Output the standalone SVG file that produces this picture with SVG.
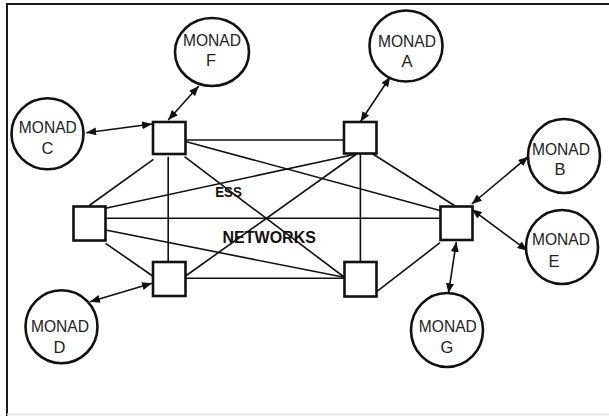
<svg xmlns="http://www.w3.org/2000/svg" width="609" height="416" viewBox="0 0 609 416">
  <style>
    .frame { fill: none; stroke: #1a1a1a; stroke-width: 2; }
    .hub { fill: #ffffff; stroke: #111111; stroke-width: 2.6; }
    .monad { fill: #ffffff; stroke: #111111; stroke-width: 2.6; }
    .link { stroke: #111111; stroke-width: 1.6; fill: none; }
    .arrow { stroke: #111111; stroke-width: 1.6; fill: none; marker-start: url(#head); marker-end: url(#head); }
    .label { font-family: "Liberation Sans", Arial, sans-serif; font-size: 16.5px; fill: #222222; text-anchor: middle; }
    .title { font-family: "Liberation Sans", Arial, sans-serif; font-weight: bold; fill: #111111; text-anchor: middle; }
  </style>
  <defs>
    <marker id="head" viewBox="0 0 10 8" markerWidth="10" markerHeight="8" markerUnits="userSpaceOnUse" refX="10" refY="4" orient="auto-start-reverse">
      <path d="M0,0 L10,4 L0,8 z" fill="#111111"/>
    </marker>
  </defs>

  <rect width="609" height="416" fill="#ffffff"/>
  <!-- outer frame: top and left dark, bottom faint -->
  <path class="frame" d="M7,416 L7,4 L609,4"/>
  <line x1="7" y1="414.5" x2="609" y2="414.5" stroke="#e6e6e6" stroke-width="2"/>

  <!-- mesh links between hubs, and hub-to-monad arrows -->
  <g id="connectors">
    <line class="link" x1="185.6" y1="140" x2="343.7" y2="140"/>
    <line class="link" x1="186.4" y1="141.7" x2="440" y2="210.5"/>
    <line class="link" x1="153.4" y1="159.3" x2="89.3" y2="205.5"/>
    <line class="link" x1="168.2" y1="156.7" x2="168.2" y2="261.7"/>
    <line class="link" x1="184.5" y1="156.7" x2="344" y2="277"/>
    <line class="link" x1="356.5" y1="154" x2="105.6" y2="208.3"/>
    <line class="link" x1="356.5" y1="154" x2="185.6" y2="276"/>
    <line class="link" x1="360.4" y1="154" x2="360.4" y2="261.7"/>
    <line class="link" x1="372.8" y1="154" x2="454.4" y2="205.5"/>
    <line class="link" x1="105.6" y1="218.3" x2="440" y2="218.3"/>
    <line class="link" x1="105.6" y1="230" x2="344" y2="277.3"/>
    <line class="link" x1="105.6" y1="243.3" x2="152.6" y2="276"/>
    <line class="link" x1="185.6" y1="278.3" x2="344" y2="278.3"/>
    <line class="link" x1="376.7" y1="291.7" x2="440" y2="242.7"/>

    <line class="arrow" x1="86.2" y1="132.7" x2="152" y2="124"/>
    <line class="arrow" x1="198.8" y1="86" x2="168.2" y2="120"/>
    <line class="arrow" x1="390.3" y1="76.7" x2="360.4" y2="121.7"/>
    <line class="arrow" x1="528.2" y1="156.7" x2="471.8" y2="204"/>
    <line class="arrow" x1="527.4" y1="250.7" x2="471.8" y2="209.3"/>
    <line class="arrow" x1="448.5" y1="293.3" x2="456.3" y2="242"/>
    <line class="arrow" x1="90" y1="301.7" x2="152" y2="283.3"/>
  </g>

  <!-- hubs -->
  <g id="hub-top-left"><rect class="hub" x="153" y="122" width="32.5" height="32"/></g>
  <g id="hub-top-right"><rect class="hub" x="344" y="122" width="32.5" height="31.5"/></g>
  <g id="hub-left"><rect class="hub" x="73.5" y="206.5" width="32" height="34"/></g>
  <g id="hub-right"><rect class="hub" x="440.5" y="206.5" width="32" height="33.5"/></g>
  <g id="hub-bottom-left"><rect class="hub" x="153" y="262" width="32.5" height="34"/></g>
  <g id="hub-bottom-right"><rect class="hub" x="344.5" y="262" width="32" height="34.5"/></g>

  <!-- monads -->
  <g id="monad-f">
    <ellipse class="monad" cx="212" cy="52" rx="37" ry="34"/>
    <text class="label" x="212" y="45.7" textLength="58" lengthAdjust="spacingAndGlyphs">MONAD</text>
    <text class="label" x="211" y="66">F</text>
  </g>
  <g id="monad-a">
    <ellipse class="monad" cx="406" cy="46" rx="36.5" ry="35.5"/>
    <text class="label" x="407" y="46.7" textLength="58" lengthAdjust="spacingAndGlyphs">MONAD</text>
    <text class="label" x="407" y="66.7">A</text>
  </g>
  <g id="monad-c">
    <ellipse class="monad" cx="47.5" cy="133.7" rx="36" ry="35.5"/>
    <text class="label" x="47.8" y="132.7" textLength="58" lengthAdjust="spacingAndGlyphs">MONAD</text>
    <text class="label" x="47.5" y="154">C</text>
  </g>
  <g id="monad-b">
    <ellipse class="monad" cx="564" cy="156" rx="36" ry="37"/>
    <text class="label" x="561" y="155" textLength="58" lengthAdjust="spacingAndGlyphs">MONAD</text>
    <text class="label" x="560" y="175">B</text>
  </g>
  <g id="monad-e">
    <ellipse class="monad" cx="562" cy="247" rx="36" ry="37"/>
    <text class="label" x="561" y="245" textLength="58" lengthAdjust="spacingAndGlyphs">MONAD</text>
    <text class="label" x="554" y="266.7">E</text>
  </g>
  <g id="monad-d">
    <ellipse class="monad" cx="61.5" cy="326.7" rx="36" ry="36.5"/>
    <text class="label" x="60" y="331.7" textLength="58" lengthAdjust="spacingAndGlyphs">MONAD</text>
    <text class="label" x="59.5" y="352.7">D</text>
  </g>
  <g id="monad-g">
    <ellipse class="monad" cx="447" cy="330" rx="36" ry="37"/>
    <text class="label" x="447.8" y="331.7" textLength="58" lengthAdjust="spacingAndGlyphs">MONAD</text>
    <text class="label" x="447" y="352.7">G</text>
  </g>

  <!-- central caption -->
  <g id="caption">
    <text class="title" x="228.5" y="197.3" font-size="15" textLength="26.7" lengthAdjust="spacingAndGlyphs">ESS</text>
    <text class="title" x="269.2" y="242.7" font-size="16">NETWORKS</text>
  </g>
</svg>
